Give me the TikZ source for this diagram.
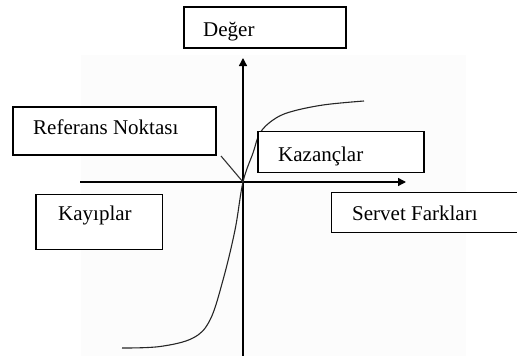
\documentclass[tikz,border=0pt]{standalone}
\usepackage{fontspec}
\setmainfont{Liberation Serif}
\usetikzlibrary{arrows.meta}
\begin{document}
\begin{tikzpicture}[x=1pt,y=-1pt,
  box/.style={draw=black,line width=1.2pt,inner sep=0pt,fill=white},
  lbl/.style={anchor=base west,inner sep=0pt,font=\fontsize{21}{24}\selectfont},
  axis/.style={line width=1.4pt,-{Triangle[width=8pt,length=8pt]}},
  curveline/.style={line width=1.1pt,black!85}]
\useasboundingbox (0,0) rectangle (517,356);
\clip (0,0) rectangle (517,356);
\fill[black!1] (81,55) rectangle (466,356);
% axes
\coordinate (origin) at (243,182);
\coordinate (ybot) at (243,356);
\coordinate (ytop) at (243,58);
\coordinate (xleft) at (80,182);
\coordinate (xright) at (406,182);
\draw[axis] (ybot) -- (ytop);
\draw[axis] (xleft) -- (xright);
% value curve
\draw[curveline] plot[smooth,tension=0.6] coordinates {(122,348) (160,346.5) (193,338) (210,320) (223,280) (235,230) (243,182) (253,153) (260,133) (273,120) (290,112) (323,105) (364,101)};
% boxes
\node[box,minimum width=162pt,minimum height=41pt] (degerbox) at (265,27.5) {};
\node[lbl] (deger) at (203,36) {Değer};
\node[box,minimum width=203pt,minimum height=48pt] (refbox) at (114.5,131) {};
\node[lbl] (ref) at (33,134) {Referans Noktası};
\coordinate (leaderstart) at (221,156);
\draw[line width=1.1pt,black!80] (leaderstart) -- (origin);
\node[box,minimum width=166pt,minimum height=41pt] (kazbox) at (341,152.2) {};
\node[lbl] (kaz) at (278,161.5) {Kazançlar};
\node[box,minimum width=126.5pt,minimum height=55pt] (kaybox) at (99.3,221.8) {};
\node[lbl] (kay) at (58,220) {Kayıplar};
\node[box,minimum width=200pt,minimum height=39.6pt] (servbox) at (431.7,212.5) {};
\node[lbl] (serv) at (352,220.5) {Servet Farkları};
\end{tikzpicture}
\end{document}
